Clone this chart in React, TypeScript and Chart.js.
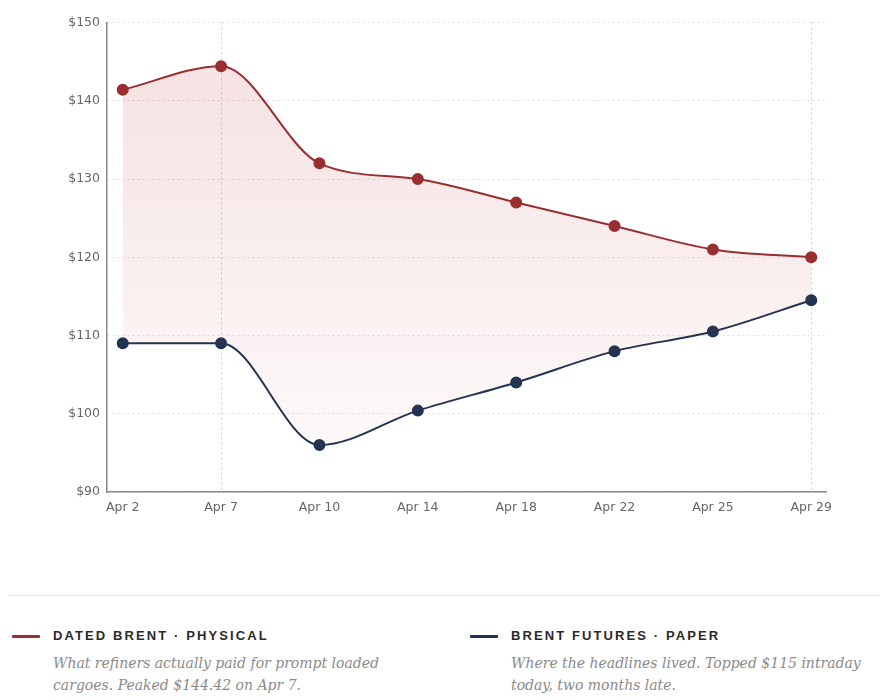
import React, { useEffect, useRef } from "react";
import { Chart, registerables } from "chart.js";

Chart.register(...registerables);

const categories = ["Apr 2", "Apr 7", "Apr 10", "Apr 14", "Apr 18", "Apr 22", "Apr 25", "Apr 29"];
const datedBrent = [141.4, 144.42, 132, 130, 127, 124, 121, 120];
const brentFutures = [109, 109, 96, 100.4, 104, 108, 110.5, 114.5];
const yTicks = [90, 100, 110, 120, 130, 140, 150];
const markedDays = ["Apr 7", "Apr 29"];

const seriesNames = ["DATED BRENT · PHYSICAL", "BRENT FUTURES · PAPER"];
const seriesNotes = [
  ["What refiners actually paid for prompt loaded", "cargoes. Peaked $144.42 on Apr 7."],
  ["Where the headlines lived. Topped $115 intraday", "today, two months late."],
];

const RED = "#9a2e31";
const NAVY = "#1f3352";

export default function App() {
  const ref = useRef<HTMLCanvasElement | null>(null);

  useEffect(() => {
    if (!ref.current) return;
    const chart = new Chart(ref.current, {
      type: "line",
      data: {
        datasets: [
          {
            label: seriesNames[0],
            data: datedBrent.map((y, i) => ({ x: i, y })),
            borderColor: RED,
            borderWidth: 2,
            pointRadius: 5,
            pointBackgroundColor: RED,
            pointBorderColor: RED,
            cubicInterpolationMode: "monotone",
            fill: "+1",
            backgroundColor: (c: any) => {
              const { chart: ch } = c;
              const area = ch.chartArea;
              if (!area) return "rgba(190,70,70,0.1)";
              const g = ch.ctx.createLinearGradient(0, area.top, 0, area.bottom);
              g.addColorStop(0, "rgba(190,60,60,0.16)");
              g.addColorStop(0.5, "rgba(190,60,60,0.09)");
              g.addColorStop(0.9, "rgba(190,60,60,0.03)");
              return g;
            },
          },
          {
            label: seriesNames[1],
            data: brentFutures.map((y, i) => ({ x: i, y })),
            borderColor: NAVY,
            borderWidth: 2,
            pointRadius: 5,
            pointBackgroundColor: NAVY,
            pointBorderColor: NAVY,
            cubicInterpolationMode: "monotone",
            fill: false,
          },
        ],
      },
      options: {
        responsive: false,
        animation: false,
        layout: { padding: { top: 9, right: 54, bottom: 3, left: 0 } },
        plugins: { legend: { display: false }, tooltip: { enabled: false } },
        scales: {
          x: {
            type: "linear",
            min: -0.16,
            max: 7.15,
            afterBuildTicks: (axis: any) => {
              axis.ticks = categories.map((_, i) => ({ value: i }));
            },
            ticks: {
              callback: (v: any) => categories[v as number],
              color: "#666",
              font: { family: "DejaVu Sans", size: 12.5 },
              padding: 8,
              maxRotation: 0,
              autoSkip: false,
            },
            grid: {
              drawTicks: false,
              color: (c: any) =>
                c.tick && markedDays.includes(categories[c.tick.value]) ? "rgba(120,120,120,0.35)" : "rgba(0,0,0,0)",
              lineWidth: 1,
            },
            border: { display: true, color: "#8a8a8a", width: 1.5, dash: [2, 3] },
          },
          y: {
            min: 90,
            max: 150,
            afterBuildTicks: (axis: any) => {
              axis.ticks = yTicks.map((v) => ({ value: v }));
            },
            afterFit: (axis: any) => {
              axis.width = 99;
            },
            ticks: {
              callback: (v: any) => "$" + v,
              color: "#666",
              font: { family: "DejaVu Sans", size: 12.5 },
              padding: 7,
            },
            grid: { drawTicks: false, color: "rgba(120,120,120,0.22)", lineWidth: 1 },
            border: { display: true, color: "#8a8a8a", width: 1.5, dash: [2, 3] },
          },
        },
      },
    });
    return () => chart.destroy();
  }, []);

  return (
    <div style={{ width: 872 }}>
      <canvas ref={ref} width={872} height={518} style={{ display: "block" }} />
      <div
        style={{
          position: "relative",
          marginTop: 69,
          borderTop: "1px dotted #d8d8d8",
          height: 100,
        }}
      >
        {[0, 1].map((k) => (
          <div key={k} style={{ position: "absolute", left: k === 0 ? 4 : 462, top: 30 }}>
            <div style={{ display: "flex", alignItems: "center" }}>
              <div
                style={{
                  width: 28,
                  height: 3,
                  background: k === 0 ? RED : NAVY,
                  marginRight: 13,
                  borderRadius: 1,
                }}
              />
              <div
                style={{
                  fontFamily: "'Liberation Sans', Arial, sans-serif",
                  fontWeight: 700,
                  fontSize: 13,
                  letterSpacing: 2.1,
                  color: "#2a2a2a",
                  lineHeight: "20px",
                }}
              >
                {seriesNames[k]}
              </div>
            </div>
            <div
              style={{
                marginLeft: 41,
                marginTop: 6,
                fontFamily: "'DejaVu Serif', serif",
                fontStyle: "italic",
                fontSize: 14,
                lineHeight: "22px",
                color: "#8a8a8a",
                whiteSpace: "nowrap",
              }}
            >
              {seriesNotes[k][0]}
              <br />
              {seriesNotes[k][1]}
            </div>
          </div>
        ))}
      </div>
    </div>
  );
}
